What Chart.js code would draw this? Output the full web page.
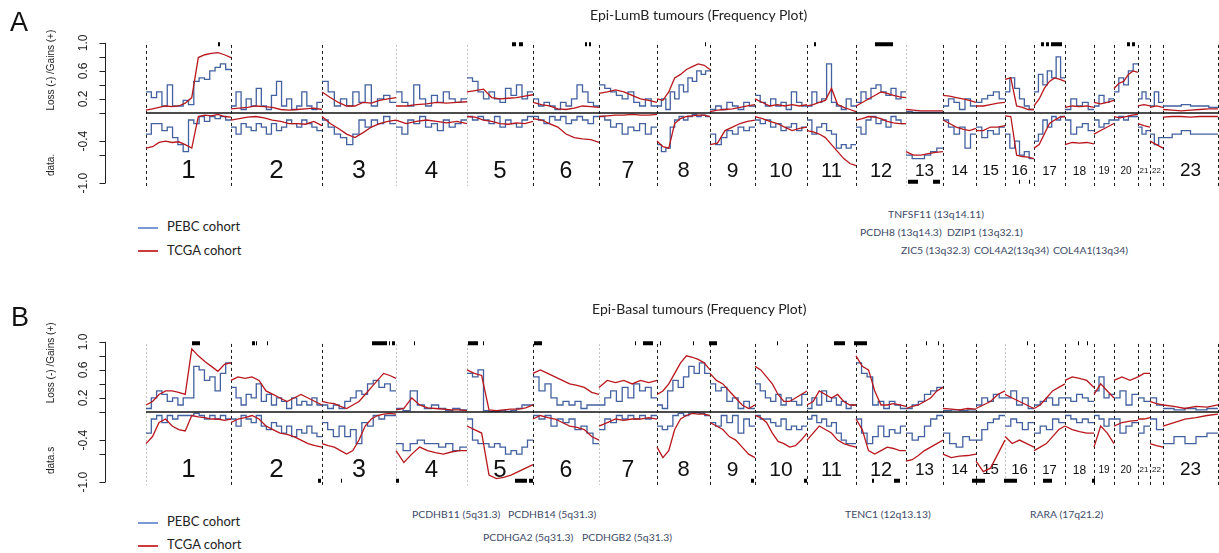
<!DOCTYPE html>
<html>
<head>
<meta charset="utf-8">
<script src="https://cdn.jsdelivr.net/npm/chart.js@4.4.0/dist/chart.umd.min.js"></script>
<style>
  body { margin: 0; background: #fff; width: 1219px; height: 553px; overflow: hidden; position: relative; font-family: Lato, sans-serif; }
  canvas { position: absolute; left: 0; }
  .t { position: absolute; white-space: nowrap; line-height: 1; z-index: 2; }
  .panel { font-family: "Liberation Sans", Arial, sans-serif; font-size: 27px; color: #111; }
  .title { font-size: 14px; color: #222; }
  .leg { font-size: 13px; color: #222; }
  .gene { font-size: 10.4px; color: #3e4a68; }
  .legline { position: absolute; width: 20px; height: 1.5px; z-index: 2; }
</style>
</head>
<body>

<div class="t panel" style="left:10px;top:9px">A</div>
<div class="t title" style="left:590px;top:8px">Epi-LumB tumours (Frequency Plot)</div>
<div class="legline" style="left:138px;top:227px;background:#7b98d6"></div>
<div class="t leg" style="left:167px;top:220px">PEBC cohort</div>
<div class="legline" style="left:138px;top:250px;background:#cc3b3b"></div>
<div class="t leg" style="left:167px;top:244px">TCGA cohort</div>
<div class="t gene" style="left:888px;top:209px">TNFSF11 (13q14.11)</div>
<div class="t gene" style="left:860px;top:227px">PCDH8 (13q14.3)</div>
<div class="t gene" style="left:947px;top:227px">DZIP1 (13q32.1)</div>
<div class="t gene" style="left:901px;top:245px">ZIC5 (13q32.3)</div>
<div class="t gene" style="left:974px;top:245px">COL4A2(13q34)</div>
<div class="t gene" style="left:1053px;top:245px">COL4A1(13q34)</div>

<div class="t panel" style="left:11px;top:304px">B</div>
<div class="t title" style="left:592px;top:302px">Epi-Basal tumours (Frequency Plot)</div>
<div class="legline" style="left:138px;top:522px;background:#7b98d6"></div>
<div class="t leg" style="left:167px;top:515px">PEBC cohort</div>
<div class="legline" style="left:138px;top:545px;background:#cc3b3b"></div>
<div class="t leg" style="left:167px;top:538px">TCGA cohort</div>
<div class="t gene" style="left:412px;top:509px">PCDHB11 (5q31.3)</div>
<div class="t gene" style="left:508px;top:509px">PCDHB14 (5q31.3)</div>
<div class="t gene" style="left:483px;top:532px">PCDHGA2 (5q31.3)</div>
<div class="t gene" style="left:582px;top:532px">PCDHGB2 (5q31.3)</div>
<div class="t gene" style="left:845px;top:509px">TENC1 (12q13.13)</div>
<div class="t gene" style="left:1030px;top:509px">RARA (17q21.2)</div>

<canvas id="lumbChart" width="1219" height="200" style="top:0"></canvas>
<canvas id="basalChart" width="1219" height="200" style="top:299px"></canvas>

<script>
// Kromozomlar ve uzunluklari (genom ekseni birimi)
const chromLabels = ['1','2','3','4','5','6','7','8','9','10','11','12','13','14','15','16','17','18','19','20','21','22','23'];
const chromLen = [85,91,74,71,66,66,58,53,45,52,49,50,37,33,29,29,31,29,20,24,12,13,55];

const yTickLabels = ['1.0', '0.6', '0.2', '-0.4', '-1.0'];
const yTickValues = [1, 0.6, 0.2, -0.4, -1];
const yTickMarks = [1, 0.8, 0.6, 0.4, 0.2, 0, -0.4, -0.6, -1];

// Epi-LumB: PEBC (mavi) ve TCGA (kirmizi) kazanc / kayip frekanslari, kromozom basina
const lumbPebcGain = [
  [0.3,0.22,0.3,0.1,0.4,0.1,0.1,0.18,0.12,0.45,0.5,0.48,0.6,0.65,0.7,0.62],
  [0.1,0.3,0.05,0.2,0.1,0.35,0.1,0.05,0.25,0.45,0.1,0.2,0.05,0.1,0.3,0.1,0.05,0.15],
  [0.45,0.3,0.1,0.2,0.1,0.3,0.15,0.4,0.1,0.2,0.25,0.15],
  [0.3,0.15,0.1,0.4,0.2,0.1,0.25,0.15,0.3,0.2,0.15,0.2],
  [0.5,0.45,0.3,0.2,0.3,0.2,0.15,0.35,0.25,0.4,0.2,0.3],
  [0.2,0.1,0.15,0.1,0.05,0.15,0.1,0.2,0.4,0.3,0.15,0.1],
  [0.4,0.35,0.3,0.25,0.2,0.3,0.15,0.1,0.2,0.1],
  [0.1,0.2,0.05,0.3,0.2,0.4,0.3,0.5,0.45,0.6,0.55,0.6],
  [0.05,0.1,0.05,0.15,0.1,0.05,0.15,0.1],
  [0.25,0.15,0.1,0.2,0.1,0.15,0.05,0.3,0.15,0.1],
  [0.1,0.3,0.15,0.2,0.7,0.15,0.1,0.05,0.2,0.1],
  [0.15,0.3,0.2,0.35,0.4,0.3,0.25,0.35,0.2,0.3],
  [0.02,0.01,0.01,0.01,0.01,0.01],
  [0.1,0.2,0.15,0.05,0.2,0.1],
  [0.15,0.2,0.25,0.3,0.2],
  [0.3,0.5,0.35,0.2,0.1,0.05],
  [0.3,0.55,0.4,0.6,0.5,0.8,0.5],
  [0.05,0.2,0.1,0.15,0.05],
  [0.1,0.25,0.15,0.2],
  [0.3,0.5,0.4,0.6,0.7],
  [0.2,0.3,0.2],
  [0.1,0.3,0.15],
  [0.1,0.1,0.12,0.1,0.1,0.08]
];
const lumbPebcLoss = [
  [-0.3,-0.15,-0.15,-0.25,-0.2,-0.35,-0.45,-0.55,-0.1,-0.15,-0.05,-0.12,-0.05,-0.08,-0.05,-0.1],
  [-0.2,-0.3,-0.15,-0.2,-0.25,-0.15,-0.2,-0.3,-0.15,-0.25,-0.2,-0.1,-0.15,-0.2,-0.1,-0.15,-0.2,-0.25],
  [-0.1,-0.2,-0.3,-0.35,-0.45,-0.3,-0.1,-0.2,-0.1,-0.15,-0.05,-0.15],
  [-0.2,-0.3,-0.1,-0.15,-0.05,-0.2,-0.15,-0.25,-0.1,-0.2,-0.15,-0.1],
  [-0.05,-0.1,-0.05,-0.1,-0.15,-0.05,-0.2,-0.1,-0.15,-0.2,-0.1,-0.05],
  [-0.05,-0.1,-0.15,-0.05,-0.1,-0.05,-0.15,-0.1,-0.05,-0.1,-0.15,-0.05],
  [-0.05,-0.1,-0.2,-0.15,-0.3,-0.2,-0.25,-0.15,-0.3,-0.2],
  [-0.45,-0.55,-0.5,-0.2,-0.1,-0.05,-0.1,-0.05,-0.02,-0.05,-0.03,-0.05],
  [-0.3,-0.45,-0.35,-0.25,-0.3,-0.2,-0.25,-0.2],
  [-0.1,-0.15,-0.1,-0.2,-0.15,-0.25,-0.2,-0.15,-0.25,-0.2],
  [-0.1,-0.3,-0.2,-0.15,-0.25,-0.3,-0.5,-0.45,-0.5,-0.45],
  [-0.2,-0.3,-0.1,-0.05,-0.15,-0.1,-0.2,-0.05,-0.1,-0.15],
  [-0.6,-0.65,-0.65,-0.6,-0.55,-0.5],
  [-0.1,-0.2,-0.3,-0.2,-0.5,-0.3],
  [-0.2,-0.35,-0.25,-0.3,-0.2],
  [-0.3,-0.5,-0.4,-0.6,-0.55,-0.65],
  [-0.4,-0.3,-0.1,-0.2,-0.05,-0.1,-0.05],
  [-0.1,-0.3,-0.2,-0.15,-0.25],
  [-0.1,-0.2,-0.15,-0.1],
  [-0.1,-0.05,-0.1,-0.05,-0.05],
  [-0.2,-0.3,-0.25],
  [-0.3,-0.45,-0.35],
  [-0.35,-0.3,-0.25,-0.3,-0.3,-0.3]
];
const lumbTcgaGain = [
  [0.04,0.06,0.08,0.1,0.09,0.1,0.14,0.22,0.79,0.83,0.85,0.86,0.83,0.79],
  [0.06,0.07,0.08,0.1,0.09,0.08,0.05,0.04,0.05,0.06,0.07,0.05],
  [0.3,0.22,0.15,0.1,0.1,0.15,0.14,0.18,0.2,0.22],
  [0.1,0.1,0.12,0.13,0.15,0.14,0.15,0.16],
  [0.3,0.32,0.34,0.22,0.2,0.21,0.22,0.24,0.26],
  [0.15,0.12,0.1,0.06,0.05,0.07,0.1,0.09,0.08],
  [0.28,0.3,0.33,0.3,0.25,0.2,0.18,0.15],
  [0.2,0.18,0.3,0.5,0.55,0.62,0.66,0.7,0.68,0.62],
  [0.02,0.04,0.05,0.06,0.08,0.1,0.12],
  [0.2,0.15,0.1,0.12,0.1,0.12,0.1,0.12],
  [0.1,0.12,0.15,0.18,0.35,0.12,0.08,0.05,0.02],
  [0.1,0.15,0.2,0.25,0.3,0.28,0.25,0.23,0.22],
  [0.05,0.04,0.03,0.03,0.03,0.03],
  [0.25,0.24,0.22,0.2,0.18,0.15],
  [0.1,0.1,0.12,0.14,0.15],
  [0.48,0.5,0.1,0.08,0.05,0.05],
  [0.1,0.2,0.35,0.45,0.5,0.48,0.45],
  [0.08,0.1,0.09,0.1,0.08],
  [0.15,0.13,0.15,0.18],
  [0.35,0.42,0.45,0.55,0.6,0.58],
  [0.1,0.12,0.1],
  [0.08,0.1,0.08],
  [0.05,0.04,0.03,0.04,0.05,0.06,0.06]
];
const lumbTcgaLoss = [
  [-0.5,-0.48,-0.42,-0.4,-0.42,-0.41,-0.45,-0.5,-0.05,-0.03,-0.04,-0.02,-0.05,-0.06],
  [-0.1,-0.08,-0.06,-0.05,-0.07,-0.1,-0.12,-0.15,-0.15,-0.16,-0.12,-0.18],
  [-0.05,-0.15,-0.22,-0.3,-0.35,-0.28,-0.2,-0.15,-0.12,-0.1],
  [-0.1,-0.15,-0.12,-0.1,-0.12,-0.14,-0.12,-0.15],
  [-0.05,-0.06,-0.1,-0.12,-0.15,-0.16,-0.14,-0.15,-0.12],
  [-0.08,-0.1,-0.15,-0.2,-0.3,-0.35,-0.37,-0.38,-0.42],
  [-0.05,-0.04,-0.03,-0.03,-0.02,-0.03,-0.03,-0.02],
  [-0.4,-0.48,-0.5,-0.15,-0.08,-0.05,-0.04,-0.03,-0.03,-0.05],
  [-0.45,-0.43,-0.25,-0.2,-0.15,-0.12,-0.1],
  [-0.05,-0.08,-0.12,-0.15,-0.2,-0.25,-0.22,-0.2],
  [-0.25,-0.27,-0.3,-0.35,-0.45,-0.55,-0.65,-0.72,-0.75],
  [-0.1,-0.08,-0.05,-0.06,-0.08,-0.12,-0.14,-0.15,-0.15],
  [-0.55,-0.6,-0.6,-0.58,-0.56,-0.55],
  [-0.1,-0.15,-0.2,-0.23,-0.25,-0.22],
  [-0.25,-0.25,-0.2,-0.2,-0.18],
  [-0.04,-0.05,-0.6,-0.62,-0.63,-0.65],
  [-0.5,-0.45,-0.3,-0.15,-0.1,-0.06,-0.05],
  [-0.45,-0.42,-0.43,-0.42,-0.44],
  [-0.3,-0.25,-0.2,-0.15],
  [-0.05,-0.07,-0.05,-0.03,-0.02],
  [-0.15,-0.18,-0.2],
  [-0.4,-0.45,-0.5],
  [-0.06,-0.05,-0.05,-0.06,-0.05,-0.05,-0.05]
];
// anlamli bolgeler (genom ekseni uzerinde [baslangic, bitis])
const lumbMarksTop = [[72,74],[366,370],[373,377],[439,441],[443,445],[559,560],[668,670],[729,747],[895,898],[900,903],[905,916],[981,984],[986,989]];
const lumbMarksBottom = [[762,772],[787,794],[873,874],[883,884]];

// Epi-Basal
const basalPebcGain = [
  [0.05,0.2,0.3,0.25,0.15,0.2,0.1,0.2,0.2,0.65,0.6,0.45,0.5,0.3,0.55,0.7],
  [0.35,0.2,0.1,0.25,0.2,0.4,0.15,0.25,0.1,0.2,0.15,0.05,0.2,0.1,0.15,0.1,0.2,0.1],
  [0.1,0.05,0.1,0.05,0.15,0.2,0.3,0.25,0.4,0.45,0.35,0.4,0.3],
  [0.05,0.02,0.3,0.1,0.05,0.1,0.05,0.02,0.05,0.03],
  [0.55,0.5,0.6,0.02,0.01,0.01,0.02,0.01,0.02,0.05,0.1,0.1],
  [0.5,0.3,0.4,0.2,0.1,0.15,0.1,0.15,0.05,0.1,0.1],
  [0.1,0.2,0.3,0.15,0.35,0.2,0.4,0.3,0.35,0.2],
  [0.1,0.05,0.3,0.45,0.35,0.5,0.65,0.55,0.7,0.55],
  [0.4,0.3,0.35,0.15,0.2,0.05,0.15,0.05],
  [0.4,0.3,0.2,0.15,0.25,0.1,0.2,0.15,0.1,0.25],
  [0.05,0.2,0.1,0.3,0.15,0.2,0.1,0.15,0.05,0.1],
  [0.7,0.55,0.5,0.1,0.15,0.05,0.15,0.1,0.05],
  [0.05,0.1,0.15,0.25,0.3,0.35],
  [0.02,0.03,0.02,0.03],
  [0.1,0.2,0.15,0.25,0.2],
  [0.2,0.3,0.1,0.2,0.05],
  [0.1,0.15,0.2,0.1,0.2],
  [0.2,0.15,0.25,0.2,0.15],
  [0.3,0.5,0.2,0.25],
  [0.2,0.3,0.1,0.25],
  [0.2,0.15],
  [0.2,0.1],
  [0.05,0.03,0.05,0.03,0.05]
];
const basalPebcLoss = [
  [-0.3,-0.1,-0.05,-0.15,-0.05,-0.1,-0.05,-0.05,-0.05,-0.02,-0.05,-0.1,-0.05,-0.1,-0.05,-0.1],
  [-0.1,-0.2,-0.05,-0.1,-0.15,-0.05,-0.2,-0.25,-0.15,-0.2,-0.3,-0.2,-0.35,-0.25,-0.3,-0.2,-0.3,-0.35],
  [-0.15,-0.25,-0.35,-0.2,-0.35,-0.25,-0.45,-0.15,-0.2,-0.05,-0.1,-0.05,-0.05],
  [-0.45,-0.55,-0.45,-0.4,-0.45,-0.45,-0.5,-0.45,-0.55,-0.5],
  [-0.1,-0.4,-0.45,-0.45,-0.5,-0.45,-0.5,-0.6,-0.55,-0.6,-0.5,-0.4],
  [-0.05,-0.1,-0.05,-0.2,-0.1,-0.15,-0.1,-0.25,-0.2,-0.3,-0.45],
  [-0.25,-0.1,-0.15,-0.05,-0.1,-0.05,-0.1,-0.05,-0.1,-0.05],
  [-0.2,-0.25,-0.2,-0.05,-0.02,-0.05,-0.02,-0.01,-0.02,-0.05],
  [-0.15,-0.2,-0.05,-0.15,-0.05,-0.3,-0.1,-0.2],
  [-0.05,-0.1,-0.1,-0.15,-0.2,-0.1,-0.25,-0.2,-0.25,-0.2],
  [-0.1,-0.05,-0.15,-0.1,-0.2,-0.15,-0.3,-0.4,-0.45,-0.45],
  [-0.1,-0.3,-0.45,-0.35,-0.2,-0.35,-0.25,-0.3,-0.2],
  [-0.3,-0.4,-0.35,-0.2,-0.1,-0.05],
  [-0.3,-0.45,-0.5,-0.35,-0.4],
  [-0.4,-0.25,-0.15,-0.1,-0.05],
  [-0.2,-0.1,-0.15,-0.25,-0.15],
  [-0.3,-0.2,-0.25,-0.1,-0.15],
  [-0.05,-0.1,-0.15,-0.1,-0.15],
  [-0.05,-0.1,-0.2,-0.1],
  [-0.1,-0.3,-0.2,-0.15],
  [-0.3,-0.2],
  [-0.1,-0.25],
  [-0.45,-0.35,-0.45,-0.35,-0.3]
];
const basalTcgaGain = [
  [0.1,0.15,0.25,0.3,0.3,0.28,0.25,0.9,0.8,0.72,0.65,0.58,0.68,0.7],
  [0.45,0.5,0.48,0.5,0.45,0.3,0.25,0.2,0.15,0.2,0.25,0.2,0.15,0.1],
  [0.15,0.13,0.12,0.08,0.05,0.1,0.15,0.25,0.35,0.45,0.55,0.52,0.48],
  [0.03,0.05,0.2,0.1,0.06,0.05,0.04,0.03,0.03,0.02],
  [0.6,0.55,0.52,0.03,0.02,0.03,0.04,0.04,0.06,0.1],
  [0.55,0.6,0.55,0.5,0.45,0.4,0.38,0.35,0.28,0.25],
  [0.35,0.45,0.42,0.45,0.4,0.45,0.42,0.45],
  [0.25,0.3,0.4,0.55,0.7,0.8,0.78,0.75,0.7,0.6],
  [0.55,0.45,0.4,0.3,0.2,0.1,0.05,0.1],
  [0.65,0.6,0.5,0.4,0.25,0.15,0.15,0.2,0.25,0.3],
  [0.1,0.15,0.3,0.25,0.2,0.25,0.15,0.1,0.1],
  [0.8,0.65,0.6,0.3,0.1,0.1,0.12,0.1,0.08],
  [0.05,0.08,0.1,0.15,0.2,0.3,0.35],
  [0.05,0.04,0.03,0.05,0.04],
  [0.05,0.1,0.15,0.25,0.3],
  [0.25,0.2,0.15,0.1,0.05],
  [0.05,0.1,0.2,0.3,0.35,0.4],
  [0.45,0.5,0.48,0.45,0.35],
  [0.25,0.4,0.3,0.2],
  [0.45,0.5,0.45,0.5],
  [0.5,0.55,0.55],
  [0.15,0.12,0.1],
  [0.1,0.08,0.05,0.08,0.07,0.1]
];
const basalTcgaLoss = [
  [-0.45,-0.35,-0.15,-0.1,-0.2,-0.25,-0.27,-0.05,-0.07,-0.08,-0.1,-0.1,-0.12,-0.1],
  [-0.15,-0.1,-0.08,-0.05,-0.1,-0.2,-0.25,-0.3,-0.32,-0.35,-0.4,-0.45,-0.48,-0.5],
  [-0.45,-0.48,-0.5,-0.55,-0.6,-0.55,-0.4,-0.2,-0.1,-0.05,-0.03,-0.02,-0.03],
  [-0.55,-0.72,-0.6,-0.5,-0.55,-0.58,-0.6,-0.57,-0.55,-0.55],
  [-0.2,-0.25,-0.3,-0.9,-0.95,-0.93,-0.9,-0.85,-0.8,-0.75],
  [-0.1,-0.05,-0.08,-0.1,-0.15,-0.2,-0.22,-0.25,-0.35,-0.4],
  [-0.2,-0.15,-0.1,-0.12,-0.1,-0.1,-0.08,-0.1],
  [-0.5,-0.65,-0.55,-0.25,-0.1,-0.05,-0.02,-0.03,-0.03,-0.05],
  [-0.15,-0.2,-0.25,-0.35,-0.4,-0.5,-0.6,-0.65],
  [-0.05,-0.08,-0.15,-0.3,-0.42,-0.45,-0.5,-0.48,-0.4,-0.3],
  [-0.4,-0.3,-0.2,-0.25,-0.3,-0.4,-0.45,-0.48,-0.5],
  [-0.1,-0.25,-0.55,-0.6,-0.55,-0.5,-0.52,-0.55,-0.55],
  [-0.7,-0.68,-0.62,-0.55,-0.5,-0.45,-0.4],
  [-0.6,-0.65,-0.63,-0.62,-0.6],
  [-0.7,-0.85,-0.8,-0.6,-0.4],
  [-0.35,-0.45,-0.4,-0.45,-0.5],
  [-0.55,-0.5,-0.45,-0.35,-0.25,-0.2],
  [-0.2,-0.25,-0.28,-0.3,-0.3],
  [-0.5,-0.2,-0.3,-0.45],
  [-0.2,-0.15,-0.13,-0.12],
  [-0.1,-0.1,-0.08],
  [-0.45,-0.48,-0.5],
  [-0.2,-0.15,-0.1,-0.08,-0.05,-0.03]
];
const basalMarksTop = [[46,54],[106,109],[110,111],[121,122],[226,241],[243,244],[246,249],[268,269],[322,332],[337,338],[388,396],[489,490],[497,507],[514,515],[547,548],[563,571],[622,623],[631,632],[688,699],[708,721],[780,781],[792,793],[881,882],[932,933],[941,942]];
const basalMarksBottom = [[172,175],[195,196],[250,253],[369,381],[383,387],[605,608],[658,661],[726,728],[748,754],[826,839],[858,871],[897,906],[946,949]];

const chromStart = [];
let genomeEnd = 0;
chromLen.forEach(len => { chromStart.push(genomeEnd); genomeEnd += len; });

const BLUE = '#43619f';
const RED = '#b8171d';
const chromFont = [26,26,25,24,24,23,23,22,21,21,20,20,17,15,15,15,13,12,10,10,8,8,19];

// kirmizi cizgi noktalari: kromozom icinde esit aralikli
function linePoints(perChrom) {
  const pts = [];
  perChrom.forEach((vals, c) => {
    const s = chromStart[c], len = chromLen[c];
    vals.forEach((v, i) => pts.push({x: s + len * i / (vals.length - 1), y: v}));
    pts.push({x: s + len, y: null});
  });
  return pts;
}

// mavi basamak cizgi noktalari
function stepPoints(perChrom) {
  const pts = [];
  perChrom.forEach((vals, c) => {
    const s = chromStart[c], len = chromLen[c];
    vals.forEach((v, i) => pts.push({x: s + len * i / vals.length, y: v}));
    pts.push({x: s + len, y: vals[vals.length - 1]});
    pts.push({x: s + len, y: null});
  });
  return pts;
}

function markPoints(marks, level) {
  const pts = [];
  marks.forEach(m => {
    pts.push({x: m[0], y: level});
    pts.push({x: m[1], y: level});
    pts.push({x: m[1], y: null});
  });
  return pts;
}

const genomeFrame = {
  id: 'genomeFrame',
  beforeDatasetsDraw(chart, args, opts) {
    const {ctx, chartArea, scales: {x, y}} = chart;
    ctx.save();
    const bounds = chromStart.concat([genomeEnd]);
    bounds.forEach((b, i) => {
      const px = Math.round(x.getPixelForValue(b)) + 0.5;
      const faint = opts.faint.includes(i);
      ctx.strokeStyle = faint ? '#c4c4c4' : '#1a1a1a';
      ctx.setLineDash(faint ? [2, 2] : [3, 3]);
      ctx.lineWidth = 1;
      ctx.beginPath();
      ctx.moveTo(px, y.getPixelForValue(0.97));
      ctx.lineTo(px, chartArea.bottom);
      ctx.stroke();
    });
    ctx.setLineDash([]);
    ctx.fillStyle = '#111';
    ctx.textAlign = 'center';
    ctx.textBaseline = 'middle';
    chromLabels.forEach((lab, i) => {
      ctx.font = chromFont[i] + 'px "Liberation Sans", Arial, sans-serif';
      ctx.fillText(lab, x.getPixelForValue(chromStart[i] + chromLen[i] / 2), y.getPixelForValue(-0.83));
    });
    ctx.restore();
  },
  afterDraw(chart, args, opts) {
    const {ctx, chartArea, scales: {y}} = chart;
    const ax = chartArea.left + 0.5;
    ctx.save();
    ctx.strokeStyle = '#222';
    ctx.lineWidth = 1;
    ctx.beginPath();
    ctx.moveTo(ax, y.getPixelForValue(1));
    ctx.lineTo(ax, y.getPixelForValue(-1));
    yTickMarks.forEach(v => {
      const py = Math.round(y.getPixelForValue(v)) + 0.5;
      ctx.moveTo(ax - 6, py);
      ctx.lineTo(ax, py);
    });
    ctx.stroke();
    ctx.fillStyle = '#222';
    ctx.textAlign = 'center';
    ctx.textBaseline = 'middle';
    ctx.font = '12px "Liberation Sans", Arial, sans-serif';
    yTickValues.forEach((v, i) => {
      ctx.save();
      ctx.translate(chartArea.left - 21, y.getPixelForValue(v));
      ctx.rotate(-Math.PI / 2);
      ctx.fillText(yTickLabels[i], 0, 0);
      ctx.restore();
    });
    ctx.font = '10px "Liberation Sans", Arial, sans-serif';
    [[opts.axisTitle, opts.titleAt], [opts.axisNote, opts.noteAt]].forEach(([txt, v]) => {
      ctx.save();
      ctx.translate(chartArea.left - 54, y.getPixelForValue(v));
      ctx.rotate(-Math.PI / 2);
      ctx.fillText(txt, 0, 0);
      ctx.restore();
    });
    ctx.restore();
  }
};

function makeChart(id, d) {
  const ctx = document.getElementById(id).getContext('2d');
  return new Chart(ctx, {
    type: 'line',
    data: {
      datasets: [
        {label: 'zero', data: [{x: 0, y: 0}, {x: genomeEnd + 1, y: 0}], borderColor: '#111', borderWidth: 1.3, order: 0},
        {label: 'sig top', data: markPoints(d.marksTop, 0.98), borderColor: '#000', borderWidth: 4, order: 1},
        {label: 'sig bottom', data: markPoints(d.marksBottom, -0.98), borderColor: '#000', borderWidth: 4, order: 1},
        {label: 'TCGA gain', data: linePoints(d.tcgaGain), borderColor: RED, borderWidth: 1.3, order: 2},
        {label: 'TCGA loss', data: linePoints(d.tcgaLoss), borderColor: RED, borderWidth: 1.3, order: 2},
        {label: 'PEBC gain', data: stepPoints(d.pebcGain), stepped: true, borderColor: BLUE, borderWidth: 1.3, order: 3},
        {label: 'PEBC loss', data: stepPoints(d.pebcLoss), stepped: true, borderColor: BLUE, borderWidth: 1.3, order: 3}
      ]
    },
    options: {
      responsive: false,
      animation: false,
      events: [],
      spanGaps: false,
      elements: {point: {radius: 0}, line: {tension: 0}},
      layout: {autoPadding: false, padding: {left: 105, right: 0, top: 40, bottom: 14}},
      scales: {
        x: {type: 'linear', min: -41, max: genomeEnd + 1, display: false},
        y: {min: -1.04, max: 1.04, display: false}
      },
      plugins: {
        legend: {display: false},
        tooltip: {enabled: false},
        genomeFrame: d.frame
      }
    },
    plugins: [genomeFrame]
  });
}

makeChart('lumbChart', {
  pebcGain: lumbPebcGain, pebcLoss: lumbPebcLoss,
  tcgaGain: lumbTcgaGain, tcgaLoss: lumbTcgaLoss,
  marksTop: lumbMarksTop, marksBottom: lumbMarksBottom,
  frame: {faint: [3, 4, 12], axisTitle: 'Loss (-) /Gains (+)', titleAt: 0.61, axisNote: 'data.', noteAt: -0.74}
});

makeChart('basalChart', {
  pebcGain: basalPebcGain, pebcLoss: basalPebcLoss,
  tcgaGain: basalTcgaGain, tcgaLoss: basalTcgaLoss,
  marksTop: basalMarksTop, marksBottom: basalMarksBottom,
  frame: {faint: [0, 3, 4, 6, 15], axisTitle: 'Loss (-) /Gains (+)', titleAt: 0.7, axisNote: 'data.s', noteAt: -0.69}
});
</script>
</body>
</html>
